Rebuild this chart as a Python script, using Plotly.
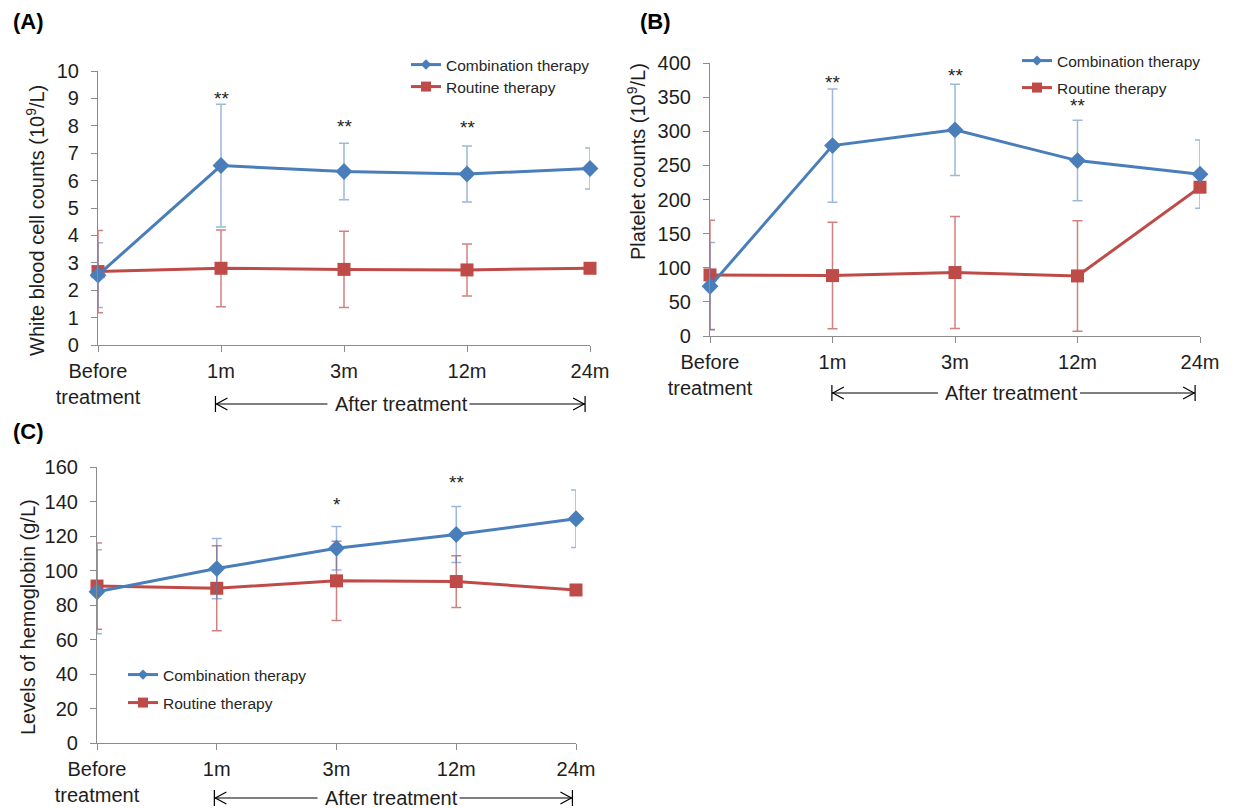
import plotly.graph_objects as go

# ---------------- data ----------------
x_labels = ["Before<br>treatment", "1m", "3m", "12m", "24m"]
x_idx = [0, 1, 2, 3, 4]

wbc_comb = [2.55, 6.55, 6.33, 6.24, 6.44]
wbc_comb_sd = [1.18, 2.24, 1.03, 1.02, 0.75]
wbc_rout = [2.68, 2.80, 2.76, 2.74, 2.80]
wbc_rout_sd = [1.50, 1.40, 1.39, 0.95, 0.0]
wbc_star_text = ["**", "**", "**"]
wbc_star_x = [1, 2, 3]
wbc_star_y = [8.98, 7.96, 7.92]

plt_comb = [73, 279, 302, 257, 237]
plt_comb_sd = [64, 83, 67, 59, 50]
plt_rout = [89.5, 88.5, 93, 88, 218]
plt_rout_sd = [80, 78, 82, 81, 0]
plt_star_text = ["**", "**", "**"]
plt_star_x = [1, 2, 3]
plt_star_y = [372, 381, 338]

hb_comb = [87.7, 101.1, 112.9, 120.9, 130.0]
hb_comb_sd = [24.4, 17.5, 12.6, 16.2, 16.7]
hb_rout = [91.0, 89.7, 94.0, 93.6, 88.7]
hb_rout_sd = [25.0, 24.6, 23.0, 15.0, 0.0]
hb_star_text = ["*", "**"]
hb_star_x = [2, 3]
hb_star_y = [138, 151]

series_names = ["Combination therapy", "Routine therapy"]

# ---------------- style ----------------
OFF = 8                      # page body margin in the browser
W, H = 1235 - OFF, 808 - OFF
FONT = "Liberation Sans, Arial, sans-serif"
BLUE = "#4A7EBB"
RED = "#BE4B48"
BLUE_ERR = "rgba(74,126,187,0.55)"
RED_ERR = "rgba(190,75,72,0.7)"
AXIS_C = "#8C8C8C"
TXT = "#1E1E1E"


def px_x(p):
    return (p - OFF) / W


def px_y(p):
    return 1 - (p - OFF) / H


panels = [
    dict(xd=(98, 590), yd=(71, 345), comb=wbc_comb, comb_sd=wbc_comb_sd,
         rout=wbc_rout, rout_sd=wbc_rout_sd, yr=[0, 10], dt=1,
         stars=(wbc_star_x, wbc_star_y, wbc_star_text)),
    dict(xd=(710, 1200), yd=(63, 336), comb=plt_comb, comb_sd=plt_comb_sd,
         rout=plt_rout, rout_sd=plt_rout_sd, yr=[0, 400], dt=50,
         stars=(plt_star_x, plt_star_y, plt_star_text)),
    dict(xd=(97, 576), yd=(467, 743), comb=hb_comb, comb_sd=hb_comb_sd,
         rout=hb_rout, rout_sd=hb_rout_sd, yr=[0, 160], dt=20,
         stars=(hb_star_x, hb_star_y, hb_star_text)),
]

fig = go.Figure()
layout = dict(
    width=W, height=H, margin=dict(l=0, r=0, t=0, b=0, autoexpand=False),
    paper_bgcolor="white", plot_bgcolor="white",
    font=dict(family=FONT, color=TXT),
    showlegend=True,
)
annotations = []
shapes = []

for i, p in enumerate(panels):
    n = "" if i == 0 else str(i + 1)
    xa, ya = "x" + n, "y" + n
    layout["xaxis" + n] = dict(
        domain=[px_x(p["xd"][0]), px_x(p["xd"][1])], anchor=ya,
        range=[0, 4], tickmode="array", tickvals=x_idx, ticktext=x_labels,
        showline=True, linecolor=AXIS_C, linewidth=1.2, ticks="outside",
        ticklen=6, tickcolor=AXIS_C, showgrid=False, zeroline=False,
        tickfont=dict(size=20, color=TXT, family=FONT), fixedrange=True,
        automargin=False, ticklabelstandoff=2,
    )
    layout["yaxis" + n] = dict(
        domain=[px_y(p["yd"][1]), px_y(p["yd"][0])], anchor=xa,
        range=p["yr"], dtick=p["dt"], tick0=0,
        showline=True, linecolor=AXIS_C, linewidth=1.2, ticks="outside",
        ticklen=6, tickcolor=AXIS_C, showgrid=False, zeroline=False,
        tickfont=dict(size=20, color=TXT, family=FONT), fixedrange=True,
        ticklabelstandoff=8, automargin=False,
    )
    fig.add_trace(go.Scatter(
        x=x_idx, y=p["rout"], xaxis=xa, yaxis=ya, mode="lines+markers",
        name=series_names[1], showlegend=False, cliponaxis=False,
        line=dict(color=RED, width=3),
        marker=dict(symbol="square", size=13, color=RED),
        error_y=dict(type="data", array=p["rout_sd"], visible=True,
                     color=RED_ERR, thickness=1.5, width=5),
    ))
    fig.add_trace(go.Scatter(
        x=x_idx, y=p["comb"], xaxis=xa, yaxis=ya, mode="lines+markers",
        name=series_names[0], showlegend=False, cliponaxis=False,
        line=dict(color=BLUE, width=3),
        marker=dict(symbol="diamond", size=13, color=BLUE),
        error_y=dict(type="data", array=p["comb_sd"], visible=True,
                     color=BLUE_ERR, thickness=1.5, width=5),
    ))
    sx, sy, st = p["stars"]
    for xx, yy, tt in zip(sx, sy, st):
        annotations.append(dict(x=xx, y=yy, xref=xa, yref=ya, text=tt,
                                showarrow=False, font=dict(size=19, color=TXT),
                                xanchor="center", yanchor="middle"))

# legends (one legend per entry for exact placement)
legend_pos = [
    (410, 65), (410, 87),
    (1021, 61), (1021, 88),
    (127, 675), (127, 703),
]
for k, (lx, ly) in enumerate(legend_pos):
    key = "legend" if k == 0 else "legend" + str(k + 1)
    layout[key] = dict(
        x=px_x(lx - 4), y=px_y(ly), xanchor="left", yanchor="middle",
        bgcolor="rgba(0,0,0,0)", borderwidth=0,
        font=dict(size=15.5, color="#262626", family=FONT),
    )
    is_comb = (k % 2 == 0)
    fig.add_trace(go.Scatter(
        x=[None], y=[None], mode="lines+markers",
        name=series_names[0] if is_comb else series_names[1],
        legend=key, showlegend=True,
        line=dict(color=BLUE if is_comb else RED, width=3),
        marker=dict(symbol="diamond" if is_comb else "square",
                    size=8 if is_comb else 10,
                    color=BLUE if is_comb else RED),
    ))

# panel labels
for txt, (lx, ly) in zip(["(A)", "(B)", "(C)"], [(28, 22), (655, 22), (28, 431)]):
    annotations.append(dict(x=px_x(lx), y=px_y(ly), xref="paper", yref="paper",
                            text="<b>" + txt + "</b>", showarrow=False,
                            font=dict(size=22, color="black"),
                            xanchor="center", yanchor="middle"))

# y-axis titles
ytitles = [
    ("White blood cell counts (10<sup>9</sup>/L)", 35, 221),
    ("Platelet counts (10<sup>9</sup>/L)", 636, 162),
    ("Levels of hemoglobin (g/L)", 28, 617),
]
for txt, tx, ty in ytitles:
    annotations.append(dict(x=px_x(tx), y=px_y(ty), xref="paper", yref="paper",
                            text=txt, textangle=-90, showarrow=False,
                            font=dict(size=20, color=TXT),
                            xanchor="center", yanchor="middle"))

# "After treatment" brackets: (axis, x left, x text centre, x right) data units, y px
brackets = [
    ("x", 0.955, 2.467, 3.96, 404),
    ("x2", 0.995, 2.465, 3.96, 393),
    ("x3", 0.98, 2.46, 3.97, 798),
]
for xr, xl, xc, xrt, yb in brackets:
    yp = px_y(yb)
    annotations.append(dict(x=xc, y=yp, xref=xr, yref="paper",
                            text="After treatment", showarrow=False,
                            font=dict(size=20, color=TXT),
                            xanchor="center", yanchor="middle"))
    line_style = dict(color="black", width=1.2)
    shapes.append(dict(type="line", xref=xr, yref="paper", x0=xl, x1=xc,
                       y0=yp, y1=yp, line=line_style, layer="below"))
    shapes.append(dict(type="line", xref=xr, yref="paper", x0=xc, x1=xrt,
                       y0=yp, y1=yp, line=line_style, layer="below"))
    shapes.append(dict(type="rect", xref=xr, yref="paper", xsizemode="pixel",
                       ysizemode="pixel", xanchor=xc, yanchor=yp,
                       x0=-74, x1=68, y0=-8, y1=8,
                       fillcolor="white", line=dict(width=0), layer="below"))
    shapes.append(dict(type="path", xref=xr, yref="paper", xsizemode="pixel",
                       ysizemode="pixel", xanchor=xl, yanchor=yp,
                       path="M 0,-8 L 0,8 M 12,6 L 1,0 L 12,-6", line=line_style))
    shapes.append(dict(type="path", xref=xr, yref="paper", xsizemode="pixel",
                       ysizemode="pixel", xanchor=xrt, yanchor=yp,
                       path="M 0,-8 L 0,8 M -12,6 L -1,0 L -12,-6", line=line_style))

layout["annotations"] = annotations
layout["shapes"] = shapes
fig.update_layout(**layout)

fig.write_html("out.html", config={"displayModeBar": False})
